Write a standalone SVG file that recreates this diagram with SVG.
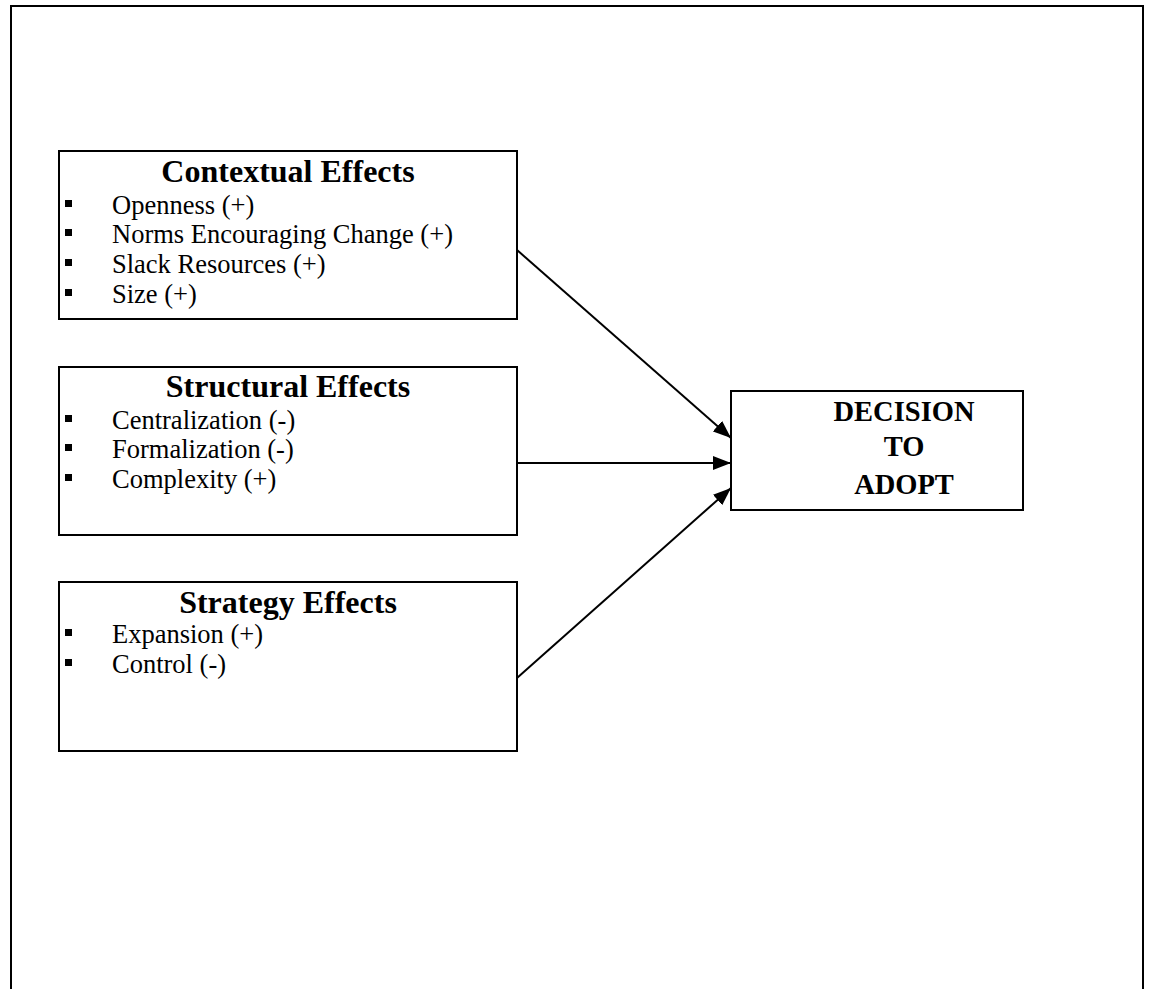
<svg xmlns="http://www.w3.org/2000/svg" width="1152" height="989" viewBox="0 0 1152 989">
  <style>
    .frame { fill: none; stroke: #000; stroke-width: 2; }
    .box { fill: #fff; stroke: #000; stroke-width: 2; }
    .title { font-family: "Liberation Serif", "Times New Roman", serif; font-weight: bold; font-size: 32px; fill: #000; text-anchor: middle; }
    .item { font-family: "Liberation Serif", "Times New Roman", serif; font-size: 26.5px; fill: #000; }
    .bullet { fill: #000; }
    .big { font-family: "Liberation Serif", "Times New Roman", serif; font-weight: bold; font-size: 28.5px; fill: #000; text-anchor: middle; }
    .link { stroke: #000; stroke-width: 2; fill: none; marker-end: url(#head); }
  </style>
  <defs>
    <marker id="head" markerWidth="18" markerHeight="14" refX="18" refY="7" orient="auto" markerUnits="userSpaceOnUse">
      <path d="M0,0 L18,7 L0,14 Z" fill="#000"/>
    </marker>
  </defs>

  <rect width="1152" height="989" fill="#fff"/>

  <!-- page frame, open at the bottom -->
  <path class="frame" d="M11,989 L11,6 L1143,6 L1143,989"/>

  <g id="contextual">
    <rect class="box" x="59" y="151" width="458" height="168"/>
    <text class="title" x="288" y="182">Contextual Effects</text>
    <rect class="bullet" x="65" y="200" width="7" height="7"/>
    <text class="item" x="112" y="214">Openness (+)</text>
    <rect class="bullet" x="65" y="229" width="7" height="7"/>
    <text class="item" x="112" y="243">Norms Encouraging Change (+)</text>
    <rect class="bullet" x="65" y="259" width="7" height="7"/>
    <text class="item" x="112" y="273">Slack Resources (+)</text>
    <rect class="bullet" x="65" y="289" width="7" height="7"/>
    <text class="item" x="112" y="303">Size (+)</text>
  </g>

  <g id="structural">
    <rect class="box" x="59" y="367" width="458" height="168"/>
    <text class="title" x="288" y="397">Structural Effects</text>
    <rect class="bullet" x="65" y="415" width="7" height="7"/>
    <text class="item" x="112" y="429">Centralization (-)</text>
    <rect class="bullet" x="65" y="444" width="7" height="7"/>
    <text class="item" x="112" y="458">Formalization (-)</text>
    <rect class="bullet" x="65" y="474" width="7" height="7"/>
    <text class="item" x="112" y="488">Complexity (+)</text>
  </g>

  <g id="strategy">
    <rect class="box" x="59" y="582" width="458" height="169"/>
    <text class="title" x="288" y="613">Strategy Effects</text>
    <rect class="bullet" x="65" y="629" width="7" height="7"/>
    <text class="item" x="112" y="643">Expansion (+)</text>
    <rect class="bullet" x="65" y="659" width="7" height="7"/>
    <text class="item" x="112" y="673">Control (-)</text>
  </g>

  <g id="decision">
    <rect class="box" x="731" y="391" width="292" height="119"/>
    <text class="big" x="904" y="421">DECISION</text>
    <text class="big" x="904" y="456">TO</text>
    <text class="big" x="904" y="494">ADOPT</text>
  </g>

  <g id="connectors">
    <line class="link" x1="517" y1="250" x2="731" y2="438"/>
    <line class="link" x1="517" y1="463" x2="731" y2="463"/>
    <line class="link" x1="517" y1="678" x2="731" y2="488"/>
  </g>
</svg>
